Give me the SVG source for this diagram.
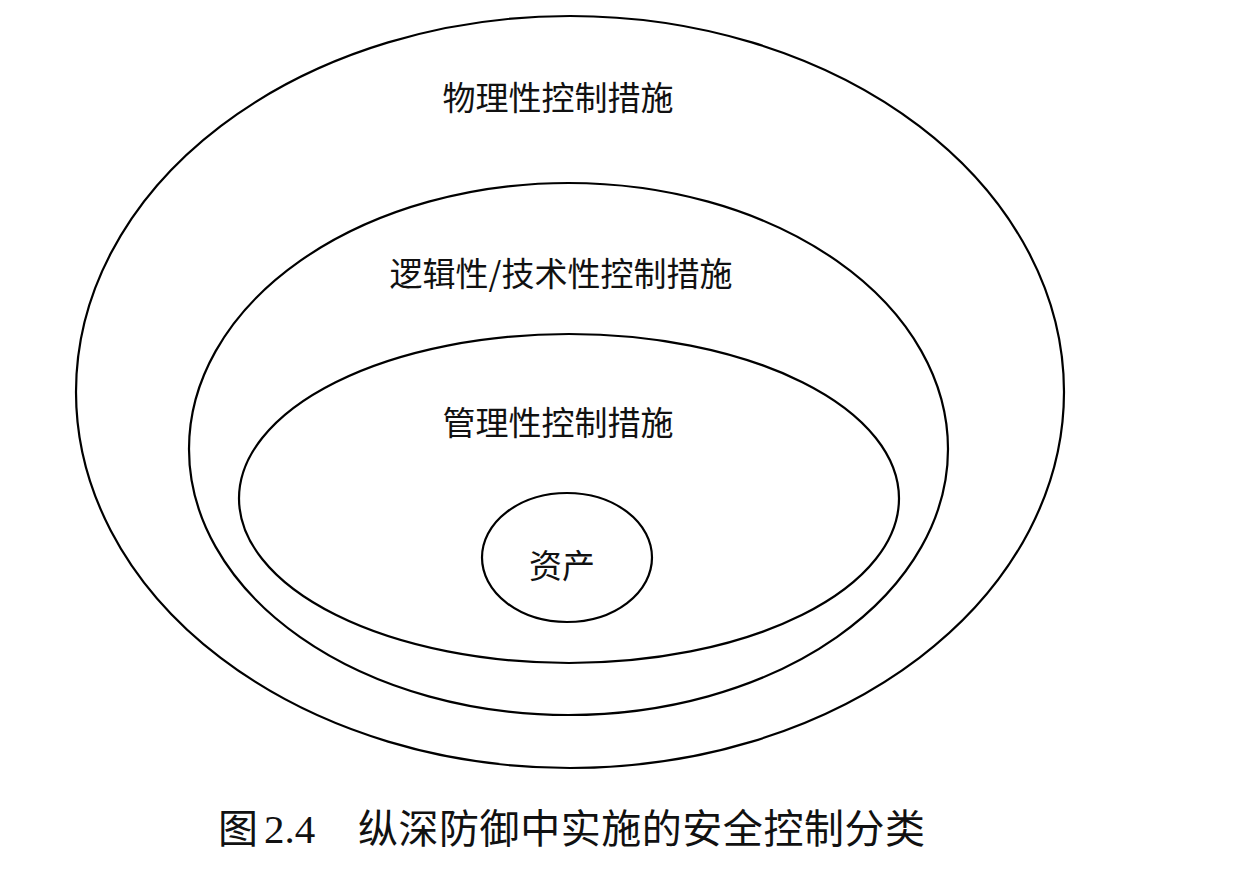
<svg xmlns="http://www.w3.org/2000/svg" width="1242" height="874" viewBox="0 0 1242 874">
  <style>
    .ring { fill: none; stroke: #000; stroke-width: 2.2; }
    .lbl { font-family: "Noto Sans CJK SC", "Liberation Sans", sans-serif; font-size: 33px; fill: #111; text-anchor: middle; }
    .cap { font-family: "Noto Sans CJK SC", "Liberation Serif", serif; font-size: 40px; fill: #111; }
    .num { font-family: "Liberation Serif", "Times New Roman", serif; font-size: 41px; fill: #111; }
  </style>
  <rect width="1242" height="874" fill="#fff"/>
  <g id="physical">
    <ellipse class="ring" cx="570" cy="392" rx="494" ry="376"/>
    <text class="lbl" x="558" y="110">物理性控制措施</text>
  </g>
  <g id="logical">
    <ellipse class="ring" cx="568.5" cy="449" rx="379.5" ry="266"/>
    <text class="lbl" x="561" y="286">逻辑性/技术性控制措施</text>
  </g>
  <g id="administrative">
    <ellipse class="ring" cx="569" cy="498.5" rx="330" ry="164.5"/>
    <text class="lbl" x="558" y="435">管理性控制措施</text>
  </g>
  <g id="asset">
    <ellipse class="ring" cx="567" cy="557.5" rx="85" ry="64.5"/>
    <text class="lbl" x="562" y="578">资产</text>
  </g>
  <g id="connectors"/>
  <g id="caption">
    <text class="cap" x="218" y="843">图</text>
    <text class="num" x="264" y="843">2.4</text>
    <text class="cap" x="358" y="843" textLength="567" lengthAdjust="spacing">纵深防御中实施的安全控制分类</text>
  </g>
</svg>
